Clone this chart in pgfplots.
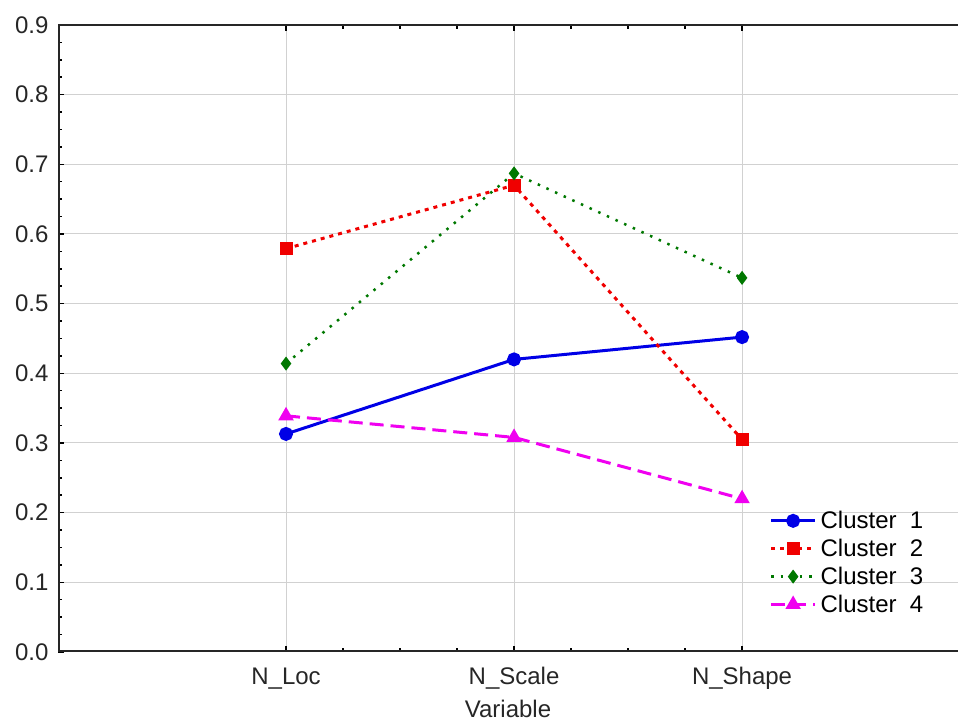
\documentclass[border=0pt]{standalone}
\usepackage{pgfplots}
\pgfplotsset{compat=1.18}
\usepackage{fontspec}
\setmainfont{Liberation Sans}
\definecolor{cblue}{RGB}{0,0,230}
\definecolor{cred}{RGB}{240,0,0}
\definecolor{cgreen}{RGB}{0,120,0}
\definecolor{cmag}{RGB}{240,0,240}
\begin{document}
\begin{tikzpicture}[x=1pt,y=1pt]
\path[use as bounding box] (0,0) rectangle (958,722);
\begin{axis}[
  at={(58pt,70pt)}, anchor=south west,
  scale only axis, width=900pt, height=627pt,
  xmin=-1, xmax=2.947, ymin=0, ymax=0.9,
  axis line style={draw=none},
  xtick={0,1,2}, xticklabels={N\_Loc, N\_Scale, N\_Shape},
  ytick={0,0.1,...,0.9},
  ytick pos=left,
  minor x tick num=3, minor y tick num=3,
  major tick length=6pt, minor tick length=4pt,
  every tick/.style={black, line width=1.5pt},
  grid=major,
  major grid style={black!18, line width=1pt},
  /pgf/number format/assume math mode=true,
  /pgf/number format/.cd, fixed, fixed zerofill, precision=1, /pgfplots/.cd,
  tick label style={font=\fontsize{24}{28}\selectfont, black!85},
  yticklabel style={xshift=-6pt},
  xticklabel style={yshift=-12pt},
  xlabel={Variable},
  xlabel style={font=\fontsize{24}{28}\selectfont, black!85, yshift=-3pt},
  legend style={draw=none, fill=none, at={(axis cs:2.12,0.205)}, anchor=north west,
    font=\fontsize{24}{28}\selectfont, row sep=5pt, inner sep=0pt,
    nodes={inner xsep=4pt}},
  legend cell align=left,
  legend image code/.code={\draw[mark repeat=2,mark phase=2] plot coordinates {(0pt,0pt)(22pt,0pt)(44pt,0pt)};},
]
\addplot[cblue, line width=3pt, mark=*, mark size=5.5pt, mark options={solid}]
  coordinates {(0,0.313) (1,0.420) (2,0.452)};
\addlegendentry{Cluster\ \ 1}
\addplot[cred, line width=3pt, dash pattern=on 4pt off 5pt, mark=square*, mark size=5pt, mark options={solid}]
  coordinates {(0,0.579) (1,0.670) (2,0.305)};
\addlegendentry{Cluster\ \ 2}
\addplot[cgreen, line width=2.5pt, dash pattern=on 2.5pt off 7pt, mark=diamond*, mark size=5pt, mark options={solid}]
  coordinates {(0,0.414) (1,0.687) (2,0.537)};
\addlegendentry{Cluster\ \ 3}
\addplot[cmag, line width=3pt, dash pattern=on 14pt off 7pt, mark=triangle*, mark size=6pt, mark options={solid}]
  coordinates {(0,0.339) (1,0.308) (2,0.220)};
\addlegendentry{Cluster\ \ 4}
\draw[black!85, line width=3pt] (rel axis cs:1,1) -- (rel axis cs:0,1) -- (rel axis cs:0,0) -- (rel axis cs:1,0);
\end{axis}
\end{tikzpicture}
\end{document}
